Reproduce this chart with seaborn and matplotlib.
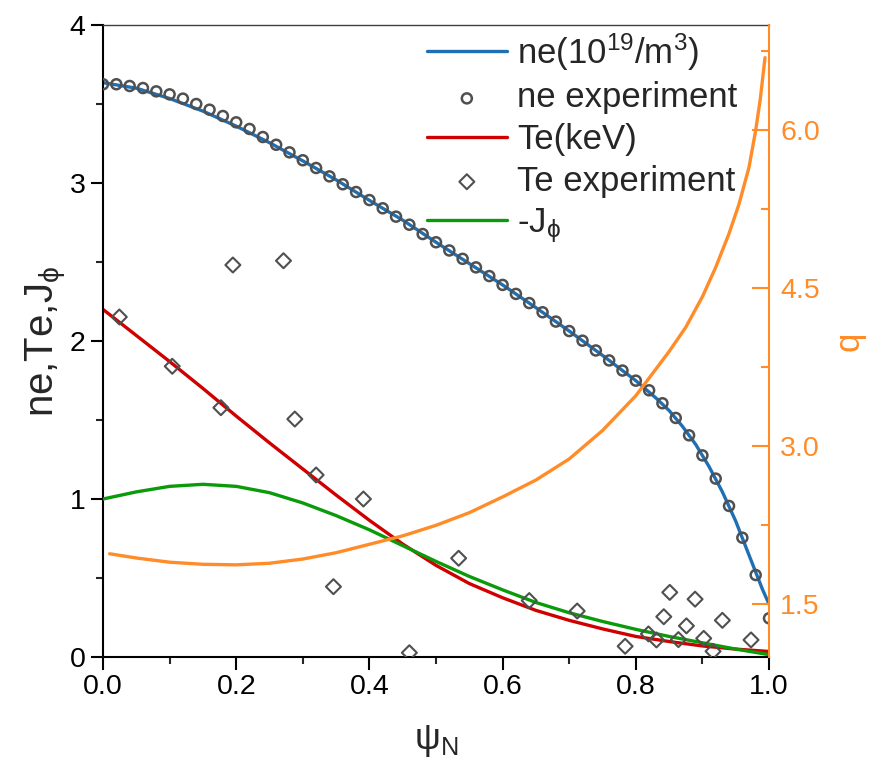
import numpy as np
import pandas as pd
import matplotlib
matplotlib.use("Agg")
import matplotlib.pyplot as plt
import seaborn as sns
from matplotlib.ticker import MultipleLocator, FormatStrFormatter

# ---------------- data ----------------
ne_exp_x = [0.00, 0.02, 0.04, 0.06, 0.08, 0.10, 0.12, 0.14, 0.16, 0.18,
            0.20, 0.22, 0.24, 0.26, 0.28, 0.30, 0.32, 0.34, 0.36, 0.38,
            0.40, 0.42, 0.44, 0.46, 0.48, 0.50, 0.52, 0.54, 0.56, 0.58,
            0.60, 0.62, 0.64, 0.66, 0.68, 0.70, 0.72, 0.74, 0.76, 0.78,
            0.80, 0.82, 0.84, 0.86, 0.88, 0.90, 0.92, 0.94, 0.96, 0.98, 1.00]
ne_exp_y = [3.625, 3.625, 3.614, 3.601, 3.580, 3.561, 3.534, 3.500, 3.464, 3.424,
            3.384, 3.342, 3.291, 3.242, 3.194, 3.144, 3.095, 3.042, 2.992, 2.943,
            2.892, 2.840, 2.787, 2.736, 2.677, 2.625, 2.573, 2.520, 2.466, 2.411,
            2.355, 2.298, 2.240, 2.182, 2.123, 2.063, 2.002, 1.940, 1.877, 1.813,
            1.749, 1.688, 1.606, 1.513, 1.403, 1.276, 1.129, 0.956, 0.755, 0.519, 0.245]

ne_x = [0.0, 0.05, 0.1, 0.15, 0.2, 0.25, 0.3, 0.35, 0.4, 0.45, 0.5, 0.55, 0.6,
        0.65, 0.7, 0.75, 0.8, 0.83, 0.85, 0.87, 0.89, 0.91, 0.93, 0.95, 0.97, 0.99, 1.0]
ne_y = [3.635, 3.60, 3.535, 3.455, 3.36, 3.255, 3.14, 3.02, 2.89, 2.765, 2.625,
        2.49, 2.355, 2.211, 2.063, 1.909, 1.749, 1.64, 1.56, 1.46, 1.345, 1.205,
        1.045, 0.86, 0.645, 0.43, 0.335]

te_x = [0.0, 0.05, 0.1, 0.15, 0.2, 0.25, 0.3, 0.35, 0.4, 0.45, 0.5, 0.55, 0.6,
        0.65, 0.7, 0.75, 0.8, 0.85, 0.9, 0.95, 1.0]
te_y = [2.20, 2.035, 1.87, 1.70, 1.525, 1.355, 1.19, 1.025, 0.865, 0.715, 0.58,
        0.465, 0.375, 0.295, 0.232, 0.178, 0.13, 0.098, 0.07, 0.05, 0.035]

te_exp_x = [0.0245, 0.104, 0.177, 0.195, 0.271, 0.288, 0.320, 0.346, 0.391, 0.460,
            0.534, 0.640, 0.712, 0.784, 0.819, 0.831, 0.842, 0.851, 0.864, 0.876,
            0.889, 0.902, 0.916, 0.930, 0.973]
te_exp_y = [2.152, 1.84, 1.578, 2.481, 2.508, 1.506, 1.152, 0.445, 1.0, 0.027,
            0.625, 0.357, 0.291, 0.068, 0.146, 0.108, 0.255, 0.409, 0.110, 0.197,
            0.366, 0.118, 0.036, 0.232, 0.108]

j_x = [0.0, 0.05, 0.1, 0.15, 0.2, 0.25, 0.3, 0.35, 0.4, 0.45, 0.5, 0.55, 0.6,
       0.65, 0.7, 0.75, 0.8, 0.85, 0.9, 0.95, 1.0]
j_y = [1.0, 1.045, 1.08, 1.093, 1.08, 1.04, 0.975, 0.895, 0.805, 0.705, 0.605,
       0.51, 0.425, 0.345, 0.28, 0.225, 0.175, 0.13, 0.09, 0.05, 0.015]

q_x = [0.01, 0.05, 0.1, 0.15, 0.2, 0.25, 0.3, 0.35, 0.4, 0.45, 0.5, 0.55, 0.6,
       0.65, 0.7, 0.75, 0.8, 0.85, 0.875, 0.9, 0.92, 0.94, 0.955, 0.97, 0.98,
       0.987, 0.994]
q_y = [1.98, 1.94, 1.90, 1.88, 1.875, 1.89, 1.93, 1.99, 2.07, 2.15, 2.25, 2.37,
       2.52, 2.68, 2.88, 3.15, 3.48, 3.90, 4.13, 4.42, 4.70, 5.02, 5.30, 5.65,
       6.00, 6.30, 6.69]

labels = ["ne(10$^{19}$/m$^3$)", "ne experiment", "Te(keV)", "Te experiment", "-J$_{\\phi}$"]

# ---------------- style ----------------
sns.set_style("ticks")
plt.rcParams["font.family"] = ["Liberation Sans", "DejaVu Sans"]
plt.rcParams["mathtext.fontset"] = "custom"
plt.rcParams["mathtext.rm"] = "Liberation Sans"
plt.rcParams["mathtext.it"] = "Liberation Sans"
plt.rcParams["mathtext.bf"] = "Liberation Sans:bold"
plt.rcParams["mathtext.fallback"] = "cm"

C_BLUE = "#1f6fb5"
C_RED = "#d00000"
C_GREEN = "#0a9a0a"
C_ORANGE = "#ff8c28"
C_GRAY = "#505050"

fig = plt.figure(figsize=(8.78, 7.61), dpi=100)
ax = fig.add_axes([103 / 878, 1 - 657 / 761, 666 / 878, 632 / 761])
ax2 = ax.twinx()

lw = 2.4
sns.lineplot(x=ne_x, y=ne_y, ax=ax, color=C_BLUE, lw=lw, sort=False, estimator=None, label=labels[0], zorder=2)
sns.scatterplot(x=ne_exp_x, y=ne_exp_y, ax=ax, marker="o", s=52, facecolor="none",
                edgecolor=C_GRAY, linewidth=1.8, label=labels[1], zorder=4)
sns.lineplot(x=te_x, y=te_y, ax=ax, color=C_RED, lw=lw, sort=False, estimator=None, label=labels[2], zorder=2)
sns.scatterplot(x=te_exp_x, y=te_exp_y, ax=ax, marker="D", s=58, facecolor="none",
                edgecolor=C_GRAY, linewidth=1.5, label=labels[3], zorder=4)
sns.lineplot(x=j_x, y=j_y, ax=ax, color=C_GREEN, lw=lw, sort=False, estimator=None, label=labels[4], zorder=3)

sns.lineplot(x=q_x, y=q_y, ax=ax2, color=C_ORANGE, lw=lw, sort=False, estimator=None, legend=False)

# axes ranges / ticks
ax.set_xlim(0, 1)
ax.set_ylim(0, 4)
ax.xaxis.set_major_locator(MultipleLocator(0.2))
ax.xaxis.set_minor_locator(MultipleLocator(0.1))
ax.yaxis.set_major_locator(MultipleLocator(1))
ax.yaxis.set_minor_locator(MultipleLocator(0.5))
ax.xaxis.set_major_formatter(FormatStrFormatter("%.1f"))

ax2.set_ylim(1, 7)
ax2.yaxis.set_major_locator(MultipleLocator(1.5))
ax2.yaxis.set_minor_locator(MultipleLocator(0.75))
ax2.yaxis.set_major_formatter(FormatStrFormatter("%.1f"))

tick_fs = 20.5
ax.tick_params(axis="both", which="major", direction="out", length=9, width=1.5,
               labelsize=tick_fs, colors="black")
ax.tick_params(axis="both", which="minor", direction="out", length=5, width=1.5)
ax2.tick_params(axis="y", which="major", direction="in", length=12, width=1.5,
                labelsize=tick_fs, colors=C_ORANGE, pad=8)
ax2.tick_params(axis="y", which="minor", direction="in", length=6, width=1.5, colors=C_ORANGE)

for s in ["left", "bottom"]:
    ax.spines[s].set_linewidth(1.5)
    ax.spines[s].set_color("black")
ax.spines["top"].set_linewidth(1.0)
ax.spines["top"].set_color("#404040")
ax.spines["right"].set_visible(False)
for s in ["left", "bottom", "top"]:
    ax2.spines[s].set_visible(False)
ax2.spines["right"].set_color(C_ORANGE)
ax2.spines["right"].set_linewidth(1.5)

ax.set_xlabel("ψ$_{\\mathrm{N}}$", fontsize=26, labelpad=16)
ax.set_ylabel("ne,Te,J$_{\\phi}$", fontsize=29, labelpad=1)
ax2.set_ylabel("q", fontsize=25, color=C_ORANGE, labelpad=9)

handles, labs = ax.get_legend_handles_labels()
order = [labs.index(l) for l in labels]
leg = ax.legend([handles[i] for i in order], [labs[i] for i in order],
                loc="upper left", bbox_to_anchor=(0.4655, 1.012), frameon=False,
                fontsize=25, handlelength=2.3, handletextpad=0.3,
                labelspacing=0.25, borderaxespad=0.0)

fig.savefig("out.png", dpi=100)
